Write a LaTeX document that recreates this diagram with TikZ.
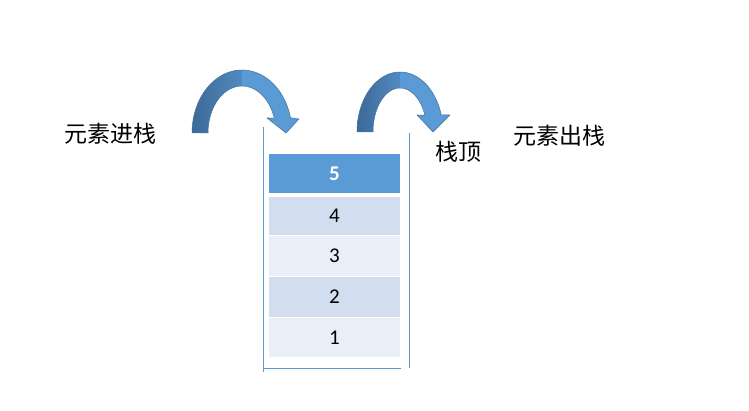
\documentclass[tikz,border=0pt]{standalone}
\usepackage{fontspec}
\setmainfont{Carlito}
\newfontfamily\cjk{Noto Sans CJK SC}
\definecolor{accent}{RGB}{91,155,213}
\definecolor{darkacc}{RGB}{70,120,172}
\definecolor{darkaccL}{RGB}{60,105,152}
\definecolor{darkaccR}{RGB}{82,138,192}
\definecolor{edgeacc}{RGB}{65,113,156}
\definecolor{cellA}{RGB}{210,222,239}
\definecolor{cellB}{RGB}{234,239,247}
\begin{document}
\begin{tikzpicture}[x=1pt,y=-1pt,
  cell/.style={minimum width=131pt,inner sep=0pt,font=\fontsize{21}{24}\selectfont},
  lbl/.style={inner sep=0pt,font=\cjk\fontsize{23}{26}\selectfont},
  band/.style={draw=edgeacc,line width=0.5pt,line join=round},
  wall/.style={draw=accent,line width=0.7pt}]
\path[use as bounding box,fill=white] (0,0) rectangle (749,411);
% stack cells
\node[cell,fill=accent,text=white,font=\bfseries\fontsize{21}{24}\selectfont,minimum height=39pt] (c5) at (334.5,173.5) {5};
\node[cell,fill=cellA,minimum height=38pt] (c4) at (334.5,216) {4};
\node[cell,fill=cellB,minimum height=40pt] (c3) at (334.5,256) {3};
\node[cell,fill=cellA,minimum height=40pt] (c2) at (334.5,297) {2};
\node[cell,fill=cellB,minimum height=39pt] (c1) at (334.5,337.5) {1};
% stack walls
\draw[wall] (263,127) -- (263,372);
\draw[wall] (409,133) -- (409,368);
\draw[wall] (263,368) -- (401,368);
% left curved arrow
\shade[left color=darkaccL,right color=darkaccR] plot[domain=-180:-90,samples=40,variable=\t] ({242+50*cos(\t)},{133+63*sin(\t)})
  -- plot[domain=-90:-180,samples=40,variable=\t] ({242+34*cos(\t)},{133+47*sin(\t)}) -- cycle;
\fill[accent] plot[domain=-90:-14,samples=40,variable=\t] ({242+50*cos(\t)},{133+63*sin(\t)})
  -- (299,119) -- (286,133) -- (267,118)
  -- plot[domain=-18.6:-90,samples=40,variable=\t] ({242+34*cos(\t)},{133+47*sin(\t)}) -- cycle;
\draw[band] plot[domain=-180:-14,samples=80,variable=\t] ({242+50*cos(\t)},{133+63*sin(\t)})
  -- (299,119) -- (286,133) -- (267,118)
  -- plot[domain=-18.6:-180,samples=80,variable=\t] ({242+34*cos(\t)},{133+47*sin(\t)}) -- cycle;
% right curved arrow
\shade[left color=darkaccL,right color=darkaccR] plot[domain=-180:-90,samples=40,variable=\t] ({400+43*cos(\t)},{132+60*sin(\t)})
  -- plot[domain=-90:-180,samples=40,variable=\t] ({400+27*cos(\t)},{132+44*sin(\t)}) -- cycle;
\fill[accent] plot[domain=-90:-16.5,samples=40,variable=\t] ({400+43*cos(\t)},{132+60*sin(\t)})
  -- (450,115) -- (433,132) -- (417,115)
  -- plot[domain=-22.7:-90,samples=40,variable=\t] ({400+27*cos(\t)},{132+44*sin(\t)}) -- cycle;
\draw[band] plot[domain=-180:-16.5,samples=80,variable=\t] ({400+43*cos(\t)},{132+60*sin(\t)})
  -- (450,115) -- (433,132) -- (417,115)
  -- plot[domain=-22.7:-180,samples=80,variable=\t] ({400+27*cos(\t)},{132+44*sin(\t)}) -- cycle;
% labels
\node[lbl] (push) at (110,134) {元素进栈};
\node[lbl] (pop) at (559,136) {元素出栈};
\node[lbl] (top) at (458,152) {栈顶};
\end{tikzpicture}
\end{document}
